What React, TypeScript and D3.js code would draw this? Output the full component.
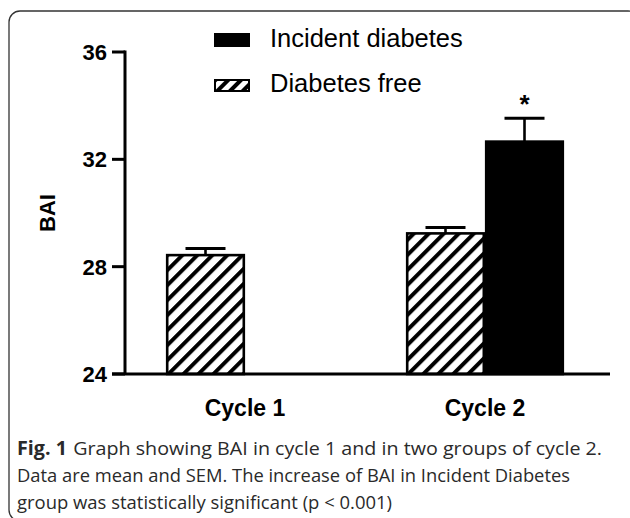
import React from "react";
import * as d3 from "d3";

const categories = ["Cycle 1", "Cycle 2"];
const seriesNames = ["Diabetes free", "Incident diabetes"];
const diabetesFreeMean = [28.43, 29.24];
const diabetesFreeSem = [0.25, 0.22];
const incidentMean: (number | null)[] = [null, 32.66];
const incidentSem: (number | null)[] = [null, 0.87];
const yTicks = [24, 28, 32, 36];
const legendLabels = ["Incident diabetes", "Diabetes free"];
const yLabel = "BAI";
const sigMark = "*";
const captionBold = "Fig. 1";
const captionLines = [
  "Graph showing BAI in cycle 1 and in two groups of cycle 2.",
  "Data are mean and SEM. The increase of BAI in Incident Diabetes",
  "group was statistically significant (p < 0.001)",
];
const captionWidths = [585, 553, 375];

export default function App() {
  const W = 630, H = 518;
  const y = d3.scaleLinear().domain([24, 36]).range([374, 52]);
  const x0 = d3.scaleBand().domain(categories).range([125, 605]).paddingInner(0).paddingOuter(0);
  const x1 = d3.scaleBand().domain(seriesNames).range([-79, 79]);
  const axisX0 = 125, axisX1 = 610;

  const bars: { key: string; cat: string; s: string; mean: number; sem: number }[] = [];
  categories.forEach((c, i) => {
    bars.push({ key: c + "f", cat: c, s: seriesNames[0], mean: diabetesFreeMean[i], sem: diabetesFreeSem[i] });
    if (incidentMean[i] != null) bars.push({ key: c + "i", cat: c, s: seriesNames[1], mean: incidentMean[i] as number, sem: incidentSem[i] as number });
  });

  const font = "'Liberation Sans', Arial, sans-serif";
  const capFont = "'Open Sans', sans-serif";
  return (
    <svg width={W} height={H} style={{ position: "absolute", left: 0, top: 0, background: "#fff" }}>
      <defs>
        <pattern id="hatch" patternUnits="userSpaceOnUse" width="10.6" height="10.6" patternTransform="rotate(45)">
          <rect width="10.6" height="10.6" fill="#fff" />
          <line x1="0" y1="0" x2="0" y2="10.6" stroke="#000" strokeWidth="8" />
        </pattern>
        <pattern id="hatchSmall" patternUnits="userSpaceOnUse" width="9" height="9" patternTransform="rotate(45)">
          <rect width="9" height="9" fill="#fff" />
          <line x1="0" y1="0" x2="0" y2="9" stroke="#000" strokeWidth="8" />
        </pattern>
      </defs>
      <rect x={9} y={11} width={630} height={510} rx={11} fill="none" stroke="#333" strokeWidth={1.3} />

      {/* bars */}
      {bars.map((b) => {
        const cx = (x0(b.cat) as number) + x0.bandwidth() / 2;
        const bx = cx + (x1(b.s) as number);
        const bw = x1.bandwidth();
        const top = y(b.mean);
        const isFree = b.s === seriesNames[0];
        const mid = bx + bw / 2;
        return (
          <g key={b.key}>
            <line x1={mid} x2={mid} y1={top} y2={y(b.mean + b.sem)} stroke="#000" strokeWidth={2.6} />
            <line x1={mid - 20} x2={mid + 20} y1={y(b.mean + b.sem)} y2={y(b.mean + b.sem)} stroke="#000" strokeWidth={3} />
            <rect x={bx + 1.2} y={top} width={bw - 2.4} height={y(24) - top} fill={isFree ? "url(#hatch)" : "#000"} stroke="#000" strokeWidth={2.6} />
            {!isFree && (
              <text x={mid} y={y(b.mean + b.sem) - 5} textAnchor="middle" fontFamily={font} fontWeight="bold" fontSize={26}>{sigMark}</text>
            )}
          </g>
        );
      })}

      {/* axes */}
      <line x1={axisX0} x2={axisX0} y1={y(36) - 1.5} y2={y(24)} stroke="#000" strokeWidth={3} />
      <line x1={axisX0 - 13} x2={axisX1} y1={y(24)} y2={y(24)} stroke="#000" strokeWidth={3} />
      {yTicks.map((t) => (
        <g key={t}>
          <line x1={axisX0 - 13} x2={axisX0} y1={y(t)} y2={y(t)} stroke="#000" strokeWidth={3} />
          <text x={107} y={y(t) + 8} textAnchor="end" fontFamily={font} fontWeight="bold" fontSize={22}>{t}</text>
        </g>
      ))}
      <text transform={`translate(55,213) rotate(-90)`} textAnchor="middle" fontFamily={font} fontWeight="bold" fontSize={22}>{yLabel}</text>
      {categories.map((c) => (
        <text key={c} x={(x0(c) as number) + x0.bandwidth() / 2} y={416} textAnchor="middle" fontFamily={font} fontWeight="bold" fontSize={23}>{c}</text>
      ))}

      {/* legend */}
      <rect x={214} y={33} width={36} height={14} fill="#000" />
      <text x={270} y={47} fontFamily={font} fontSize={25.5}>{legendLabels[0]}</text>
      <rect x={215} y={80} width={34} height={11} fill="url(#hatchSmall)" stroke="#000" strokeWidth={2} />
      <text x={270} y={91.5} fontFamily={font} fontSize={25.5}>{legendLabels[1]}</text>

      {/* caption */}
      <text x={17} y={455} fontFamily={capFont} fontSize={19} fill="#2a2a2a" textLength={captionWidths[0]} lengthAdjust="spacingAndGlyphs">
        <tspan fontWeight="bold">{captionBold}</tspan>
        <tspan dx={6}>{captionLines[0]}</tspan>
      </text>
      <text x={17} y={482} fontFamily={capFont} fontSize={19} fill="#2a2a2a" textLength={captionWidths[1]} lengthAdjust="spacingAndGlyphs">{captionLines[1]}</text>
      <text x={17} y={509} fontFamily={capFont} fontSize={19} fill="#2a2a2a" textLength={captionWidths[2]} lengthAdjust="spacingAndGlyphs">{captionLines[2]}</text>
    </svg>
  );
}
